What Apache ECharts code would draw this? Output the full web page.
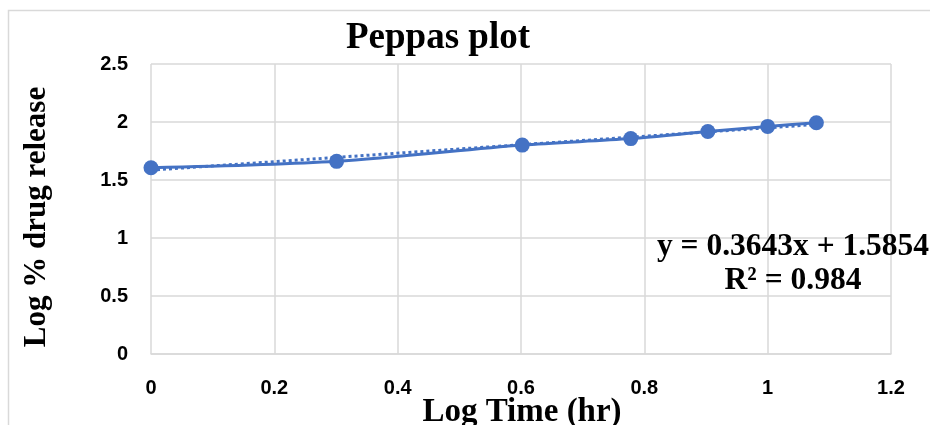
<!DOCTYPE html>
<html>
<head>
<meta charset="utf-8">
<title>Peppas plot</title>
<script src="https://cdn.jsdelivr.net/npm/echarts@6/dist/echarts.min.js"></script>
<style>
  html, body { margin: 0; padding: 0; background: #fff; }
  #chart { width: 930px; height: 425px; }
</style>
</head>
<body>
<div id="chart"></div>
<script>
// log time (hr) and log % drug release
var logTime = [0, 0.301, 0.602, 0.778, 0.903, 1.0, 1.079];
var logRelease = [1.605, 1.661, 1.801, 1.857, 1.918, 1.962, 1.994];

// linear trendline ends (from y = 0.3643x + 1.5854)
var trendX = [0, 1.079];
var trendY = [1.585, 1.979];

var xTicks = [0, 0.2, 0.4, 0.6, 0.8, 1, 1.2];
var yTicks = [0, 0.5, 1, 1.5, 2, 2.5];

var blue = '#4472C4';
var serif = '"Liberation Serif", "DejaVu Serif", serif';
var sans = '"Liberation Sans", "Open Sans", sans-serif';

var chartDom = document.getElementById('chart');
var myChart = echarts.init(chartDom);

var option = {
  animation: false,
  title: {
    text: 'Peppas plot',
    left: 433,
    top: 15,
    textAlign: 'center',
    textStyle: { fontFamily: serif, fontWeight: 'bold', fontSize: 37, color: '#000' }
  },
  grid: { left: 151, right: 39, top: 64, bottom: 71, outerBoundsMode: 'none', containLabel: false },
  xAxis: {
    type: 'value',
    min: xTicks[0],
    max: xTicks[xTicks.length - 1],
    interval: 0.2,
    axisLine: { show: true, lineStyle: { color: '#d9d9d9', width: 1.5 } },
    axisTick: { show: false },
    splitLine: { show: true, lineStyle: { color: '#d9d9d9', width: 1.5 } },
    axisLabel: {
      margin: 24,
      fontFamily: sans, fontWeight: 'bold', fontSize: 20, color: '#000',
      formatter: function (v) { return String(Math.round(v * 10) / 10); }
    }
  },
  yAxis: {
    type: 'value',
    min: yTicks[0],
    max: yTicks[yTicks.length - 1],
    interval: 0.5,
    axisLine: { show: false },
    axisTick: { show: false },
    splitLine: { show: true, lineStyle: { color: '#d9d9d9', width: 1.5 } },
    axisLabel: {
      margin: 23,
      fontFamily: sans, fontWeight: 'bold', fontSize: 20, color: '#000'
    }
  },
  graphic: [
    {
      type: 'rect',
      shape: { x: 8.5, y: 10.5, width: 940, height: 440 },
      style: { fill: 'none', stroke: '#d9d9d9', lineWidth: 1.5 },
      silent: true
    },
    {
      // x axis title, cut by the bottom edge as in the original
      type: 'text',
      x: 522,
      y: 412,
      style: {
        text: 'Log Time (hr)',
        fontFamily: serif, fontWeight: 'bold', fontSize: 33, fill: '#000',
        align: 'center', verticalAlign: 'middle'
      }
    },
    {
      // y axis title
      type: 'text',
      x: 37,
      y: 217,
      rotation: Math.PI / 2,
      style: {
        text: 'Log % drug release',
        fontFamily: serif, fontWeight: 'bold', fontSize: 31, fill: '#000',
        align: 'center', verticalAlign: 'middle'
      }
    },
    {
      type: 'text',
      x: 793,
      y: 247,
      style: {
        text: 'y = 0.3643x + 1.5854',
        fontFamily: serif, fontWeight: 'bold', fontSize: 31.5, fill: '#000',
        align: 'center', verticalAlign: 'middle'
      },
      z: 10
    },
    {
      type: 'text',
      x: 793,
      y: 281,
      style: {
        text: 'R\u00b2 = 0.984',
        fontFamily: serif, fontWeight: 'bold', fontSize: 31.5, fill: '#000',
        align: 'center', verticalAlign: 'middle'
      },
      z: 10
    }
  ],
  series: [
    {
      name: 'trend',
      type: 'line',
      data: trendX.map(function (x, i) { return [x, trendY[i]]; }),
      showSymbol: false,
      symbol: 'none',
      lineStyle: { color: blue, width: 3, type: 'dotted' },
      z: 2
    },
    {
      name: 'release',
      type: 'line',
      data: logTime.map(function (x, i) { return [x, logRelease[i]]; }),
      smooth: 0.3,
      symbol: 'circle',
      symbolSize: 15,
      itemStyle: { color: blue },
      lineStyle: { color: blue, width: 3 },
      z: 3
    }
  ]
};

option && myChart.setOption(option);
</script>
</body>
</html>
